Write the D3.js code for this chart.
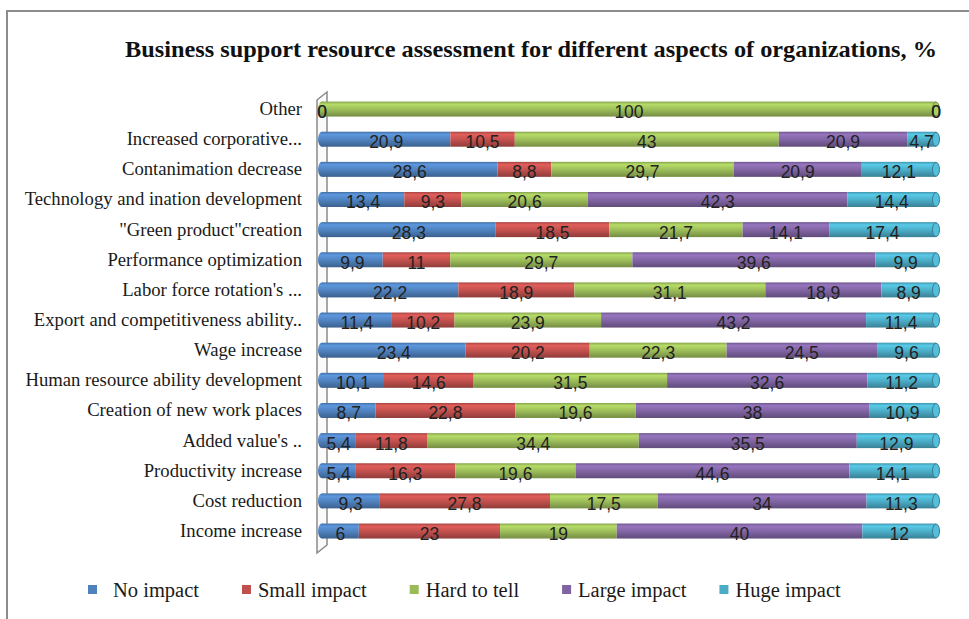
<!DOCTYPE html>
<html>
<head>
<meta charset="utf-8">
<script src="https://cdn.jsdelivr.net/npm/d3@7"></script>
<style>
  body { margin: 0; background: #fff; }
</style>
</head>
<body>
<div id="chart"></div>
<script>
// categories, top to bottom
const categories = [
  "Other",
  "Increased corporative...",
  "Contanimation decrease",
  "Technology and ination development",
  "\"Green product\"creation",
  "Performance optimization",
  "Labor force rotation's ...",
  "Export and competitiveness ability..",
  "Wage increase",
  "Human resource ability development",
  "Creation of new work places",
  "Added value's ..",
  "Productivity increase",
  "Cost reduction",
  "Income increase"
];

const seriesNames = ["No impact", "Small impact", "Hard to tell", "Large impact", "Huge impact"];
const noImpact    = [0, 20.9, 28.6, 13.4, 28.3, 9.9, 22.2, 11.4, 23.4, 10.1, 8.7, 5.4, 5.4, 9.3, 6];
const smallImpact = [0, 10.5, 8.8, 9.3, 18.5, 11, 18.9, 10.2, 20.2, 14.6, 22.8, 11.8, 16.3, 27.8, 23];
const hardToTell  = [100, 43, 29.7, 20.6, 21.7, 29.7, 31.1, 23.9, 22.3, 31.5, 19.6, 34.4, 19.6, 17.5, 19];
const largeImpact = [0, 20.9, 20.9, 42.3, 14.1, 39.6, 18.9, 43.2, 24.5, 32.6, 38, 35.5, 44.6, 34, 40];
const hugeImpact  = [0, 4.7, 12.1, 14.4, 17.4, 9.9, 8.9, 11.4, 9.6, 11.2, 10.9, 12.9, 14.1, 11.3, 12];
const colors = ["#4f81bd", "#c0504d", "#9bbb59", "#8064a2", "#4bacc6"];

const W = 969, H = 619;
const svg = d3.select("#chart").append("svg").attr("width", W).attr("height", H);

// outer frame
svg.append("rect").attr("x", 7).attr("y", 11).attr("width", W + 20).attr("height", H + 20)
  .attr("fill", "#fff").attr("stroke", "#8c8c8c").attr("stroke-width", 2);

svg.append("text")
  .attr("x", 125).attr("y", 57)
  .attr("font-family", "Liberation Serif")
  .attr("font-weight", "bold")
  .attr("font-size", "24px")
  .attr("textLength", 812)
  .attr("lengthAdjust", "spacingAndGlyphs")
  .attr("fill", "#111")
  .text("Business support resource assessment for different aspects of organizations, %");

// build rows
const rows = categories.map((c, i) => ({
  cat: c,
  "No impact": noImpact[i],
  "Small impact": smallImpact[i],
  "Hard to tell": hardToTell[i],
  "Large impact": largeImpact[i],
  "Huge impact": hugeImpact[i]
}));

const stacked = d3.stack().keys(seriesNames).offset(d3.stackOffsetExpand)(rows);

const x = d3.scaleLinear().domain([0, 1]).range([322, 936]);
const y = d3.scaleBand().domain(categories).range([94, 546.1]).paddingInner(0.5).paddingOuter(0.25);
const color = d3.scaleOrdinal().domain(seriesNames).range(colors);
const bh = 15;

// gradients for the cylinder look
const defs = svg.append("defs");
seriesNames.forEach((s, i) => {
  const c = d3.color(colors[i]);
  const g = defs.append("linearGradient").attr("id", "g" + i)
    .attr("x1", 0).attr("y1", 0).attr("x2", 0).attr("y2", 1);
  g.append("stop").attr("offset", "0%").attr("stop-color", c.darker(0.4));
  g.append("stop").attr("offset", "18%").attr("stop-color", c.brighter(0.45));
  g.append("stop").attr("offset", "55%").attr("stop-color", c);
  g.append("stop").attr("offset", "100%").attr("stop-color", c.darker(0.8));
});

// back wall
svg.append("path")
  .attr("d", "M317,100 L327,92 L327,545 L317,553 Z")
  .attr("fill", "#fafafa").attr("stroke", "#8a8a8a").attr("stroke-width", 1.5);

// category labels
svg.append("g").selectAll("text").data(categories).join("text")
  .attr("x", 302)
  .attr("y", d => y(d) + y.bandwidth() / 2 + 6)
  .attr("text-anchor", "end")
  .attr("font-family", "Liberation Serif")
  .attr("font-size", "18.7px")
  .attr("fill", "#1a1a1a")
  .text(d => d);

const cy = d => y(d.data.cat) + y.bandwidth() / 2;

// left rounded ends
svg.append("g").selectAll("ellipse").data(rows).join("ellipse")
  .attr("cx", x(0)).attr("cy", d => y(d.cat) + y.bandwidth() / 2)
  .attr("rx", 4).attr("ry", bh / 2)
  .attr("fill", d => "url(#g" + seriesNames.findIndex(s => d[s] > 0) + ")");

// segments
stacked.forEach((layer, i) => {
  svg.append("g").selectAll("rect").data(layer).join("rect")
    .attr("x", d => x(d[0]))
    .attr("y", d => cy(d) - bh / 2)
    .attr("width", d => x(d[1]) - x(d[0]))
    .attr("height", bh)
    .attr("fill", "url(#g" + i + ")");
});

// right end caps
svg.append("g").selectAll("ellipse").data(rows).join("ellipse")
  .attr("cx", x(1)).attr("cy", d => y(d.cat) + y.bandwidth() / 2)
  .attr("rx", 3.5).attr("ry", bh / 2 - 0.5)
  .attr("fill", d => {
    const k = seriesNames.filter(s => d[s] > 0).pop();
    return d3.color(color(k)).brighter(0.3);
  })
  .attr("stroke", d => {
    const k = seriesNames.filter(s => d[s] > 0).pop();
    return d3.color(color(k)).darker(0.9);
  })
  .attr("stroke-width", 1);

// value labels
stacked.forEach((layer, i) => {
  svg.append("g").selectAll("text").data(layer).join("text")
    .attr("x", d => (x(d[0]) + x(d[1])) / 2)
    .attr("y", d => cy(d) + 9)
    .attr("text-anchor", "middle")
    .attr("font-family", "Liberation Sans")
    .attr("font-size", "17.5px")
    .attr("fill", "#222")
    .text(d => String(d.data[layer.key]).replace(".", ","));
});

// legend
const legend = svg.append("g");
let cx = 88;
seriesNames.forEach((s, i) => {
  legend.append("rect").attr("x", cx).attr("y", 585).attr("width", 9).attr("height", 9)
    .attr("fill", colors[i]);
  const t = legend.append("text")
    .attr("x", cx + (i === 0 ? 25 : 16)).attr("y", 597)
    .attr("font-family", "Liberation Serif")
    .attr("font-size", "20.5px")
    .attr("fill", "#1a1a1a")
    .text(s);
  cx += (i === 0 ? 25 : 16) + t.node().getComputedTextLength() + (i === 3 ? 33 : 43);
});
</script>
</body>
</html>
